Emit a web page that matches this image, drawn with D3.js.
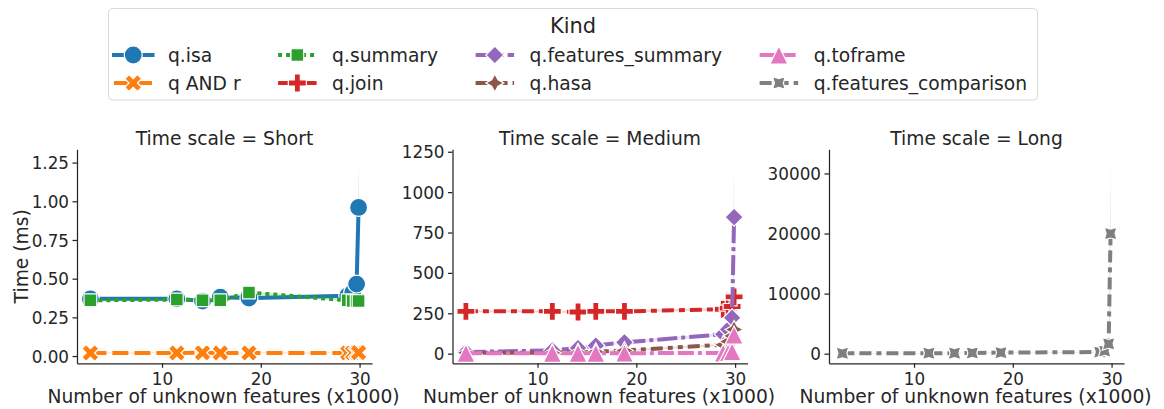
<!DOCTYPE html>
<html>
<head>
<meta charset="utf-8">
<script src="https://cdn.jsdelivr.net/npm/d3@7"></script>
<style>
  body { margin: 0; background: #fff; }
  text { font-family: "DejaVu Sans", sans-serif; fill: #262626; }
</style>
</head>
<body>
<div id="chart"></div>
<script>
    // number of unknown features (x1000), same for every kind
    var features = [2.75, 11.5, 14.1, 15.9, 18.8, 28.8, 29.3, 29.7, 29.9];

    var timeScales = ["Short", "Medium", "Long"];
    var kinds = ["q.isa", "q AND r", "q.summary", "q.join", "q.features_summary", "q.hasa", "q.toframe", "q.features_comparison"];
    var kindScale = ["Short", "Short", "Short", "Medium", "Medium", "Medium", "Medium", "Long"];

    // mean time (ms) with the lower / upper bound of the error band
    var isaMean = [0.37, 0.37, 0.355, 0.38, 0.375, 0.39, 0.41, 0.465, 0.96];
    var isaLo   = [0.362, 0.362, 0.347, 0.372, 0.367, 0.382, 0.395, 0.445, 0.65];
    var isaHi   = [0.378, 0.378, 0.363, 0.388, 0.383, 0.398, 0.425, 0.485, 1.273];

    var andMean = [0.02, 0.02, 0.021, 0.02, 0.02, 0.02, 0.021, 0.022, 0.022];
    var andLo   = [0.016, 0.016, 0.017, 0.016, 0.016, 0.016, 0.017, 0.017, 0.016];
    var andHi   = [0.024, 0.024, 0.025, 0.024, 0.024, 0.024, 0.025, 0.027, 0.028];

    var summaryMean = [0.36, 0.365, 0.36, 0.36, 0.41, 0.36, 0.355, 0.355, 0.355];
    var summaryLo   = [0.353, 0.358, 0.353, 0.353, 0.4, 0.353, 0.348, 0.348, 0.345];
    var summaryHi   = [0.367, 0.372, 0.367, 0.367, 0.42, 0.367, 0.362, 0.362, 0.365];

    var joinMean = [262, 262, 258, 262, 262, 275, 282, 292, 352];
    var joinLo   = [255, 255, 251, 255, 255, 268, 274, 282, 330];
    var joinHi   = [269, 269, 265, 269, 269, 282, 290, 302, 375];

    var fsumMean = [10, 20, 35, 50, 70, 120, 150, 222, 845];
    var fsumLo   = [6, 15, 29, 43, 62, 111, 138, 205, 480];
    var fsumHi   = [14, 25, 41, 57, 78, 129, 162, 240, 1205];

    var hasaMean = [5, 6, 8, 12, 20, 55, 75, 110, 150];
    var hasaLo   = [2, 3, 5, 8, 15, 48, 66, 98, 130];
    var hasaHi   = [8, 9, 11, 16, 25, 62, 84, 122, 172];

    var toframeMean = [2, 2, 2, 2, 3, 4, 6, 12, 115];
    var toframeLo   = [0.5, 0.5, 0.5, 0.5, 1, 2, 3, 6, 90];
    var toframeHi   = [3.5, 3.5, 3.5, 3.5, 5, 6, 9, 18, 140];

    var fcompMean = [60, 80, 100, 120, 180, 270, 450, 1650, 20000];
    var fcompLo   = [20, 40, 60, 80, 130, 200, 350, 1200, 7600];
    var fcompHi   = [100, 120, 140, 160, 230, 340, 550, 2100, 32400];

    var xTicks = [10, 20, 30];
    var yTicks = {
      Short: [0, 0.25, 0.5, 0.75, 1, 1.25],
      Medium: [0, 250, 500, 750, 1000, 1250],
      Long: [0, 10000, 20000, 30000]
    };
    var yFormat = { Short: d3.format(".2f"), Medium: d3.format("d"), Long: d3.format("d") };

    var colors = ["#1f77b4", "#ff7f0e", "#2ca02c", "#d62728", "#9467bd", "#8c564b", "#e377c2", "#7f7f7f"];
    // seaborn default dash specs, scaled by line width
    var dashes = [[], [4, 1.5], [1, 1], [3, 1.25, 1.5, 1.25], [5, 1, 1, 1],
                  [3, 1.25, 1.25, 1.25, 1.25, 1.25], [4, 1, 4, 1, 1, 1], [3, 1.25, 3, 1.25, 1.25, 1.25]];
    var markers = ["circle", "x", "square", "plus", "diamond", "star", "triangle", "star45"];

    var series = [
      [isaMean, isaLo, isaHi], [andMean, andLo, andHi], [summaryMean, summaryLo, summaryHi],
      [joinMean, joinLo, joinHi], [fsumMean, fsumLo, fsumHi], [hasaMean, hasaLo, hasaHi],
      [toframeMean, toframeLo, toframeHi], [fcompMean, fcompLo, fcompHi]
    ].map(function(s, i) {
      return {
        kind: kinds[i], scale: kindScale[i], color: colors[i], dash: dashes[i], marker: markers[i],
        pts: features.map(function(f, j) { return { x: f, y: s[0][j], lo: s[1][j], hi: s[2][j] }; })
      };
    });

    var width = 1164, height = 409;
    var lw = 4, ms = 18;
    var panelLeft = [77, 452.5, 829], panelW = 295;
    var plotTop = 149.3, plotBottom = 363.3;

    var svg = d3.select("#chart").append("svg")
        .attr("width", width)
        .attr("height", height);

    // matplotlib like 5% margins
    function padded(ext) {
      var m = (ext[1] - ext[0]) * 0.05;
      return [ext[0] - m, ext[1] + m];
    }

    function polygon(n, ang, r, inner) {
      var pts = [], k = inner ? 2 * n : n;
      for (var i = 0; i < k; i++) {
        var t = 2 * Math.PI * i / k + Math.PI / 2 + ang * Math.PI / 180;
        var rr = (inner && i % 2) ? r * inner : r;
        pts.push([rr * Math.cos(t), -rr * Math.sin(t)]);
      }
      return "M" + pts.join("L") + "Z";
    }

    function plusPath(s, ang) {
      var v = [[-1, -3], [1, -3], [1, -1], [3, -1], [3, 1], [1, 1], [1, 3], [-1, 3], [-1, 1], [-3, 1], [-3, -1], [-1, -1]];
      var a = ang * Math.PI / 180;
      return "M" + v.map(function(p) {
        var x = p[0] / 6 * s, y = p[1] / 6 * s;
        return [x * Math.cos(a) - y * Math.sin(a), x * Math.sin(a) + y * Math.cos(a)];
      }).join("L") + "Z";
    }

    function markerPath(type) {
      var r = ms / 2;
      switch (type) {
        case "circle": return "M" + r + ",0A" + r + "," + r + " 0 1,1 " + (-r) + ",0A" + r + "," + r + " 0 1,1 " + r + ",0Z";
        case "x": return plusPath(ms, 45);
        case "square": return polygon(4, 45, r);
        case "plus": return plusPath(ms, 0);
        case "diamond": return polygon(4, 0, r);
        case "star": return polygon(4, 0, r, 0.5);
        case "triangle": return "M0," + (-r) + "L" + (-r) + "," + r + "L" + r + "," + r + "Z";
        case "star45": return polygon(4, 45, r, 0.5);
      }
    }

    var x0 = padded(d3.extent(features));

    timeScales.forEach(function(ts, p) {
      var sub = series.filter(function(s) { return s.scale === ts; });
      var lo = d3.min(sub, function(s) { return d3.min(s.pts, function(d) { return Math.min(d.lo, d.y); }); });
      var hi = d3.max(sub, function(s) { return d3.max(s.pts, function(d) { return Math.max(d.hi, d.y); }); });

      var x = d3.scaleLinear().domain(x0).range([panelLeft[p], panelLeft[p] + panelW]);
      var y = d3.scaleLinear().domain(padded([lo, hi])).range([plotBottom, plotTop]);

      var g = svg.append("g").attr("class", "panel");

      sub.forEach(function(s) {
        g.append("path")
          .datum(s.pts)
          .attr("fill", s.color)
          .attr("fill-opacity", 0.2)
          .attr("d", d3.area().x(function(d) { return x(d.x); }).y0(function(d) { return y(d.lo); }).y1(function(d) { return y(d.hi); }));
        g.append("path")
          .datum(s.pts)
          .attr("fill", "none")
          .attr("stroke", s.color)
          .attr("stroke-width", lw)
          .attr("stroke-linejoin", "round")
          .attr("stroke-linecap", s.dash.length ? "butt" : "square")
          .attr("stroke-dasharray", s.dash.length ? s.dash.map(function(v) { return v * lw; }).join(",") : null)
          .attr("d", d3.line().x(function(d) { return x(d.x); }).y(function(d) { return y(d.y); }));
        g.selectAll(null)
          .data(s.pts)
          .enter().append("path")
            .attr("transform", function(d) { return "translate(" + x(d.x) + "," + y(d.y) + ")"; })
            .attr("d", markerPath(s.marker))
            .attr("fill", s.color)
            .attr("stroke", "#fff")
            .attr("stroke-width", 1.2);
      });

      // axes
      var ax = svg.append("g")
          .attr("transform", "translate(0," + plotBottom + ")")
          .call(d3.axisBottom(x).tickValues(xTicks).tickSize(4.5).tickSizeOuter(0).tickPadding(3.5));
      var ay = svg.append("g")
          .attr("transform", "translate(" + panelLeft[p] + ",0)")
          .call(d3.axisLeft(y).tickValues(yTicks[ts]).tickFormat(yFormat[ts]).tickSize(4.5).tickSizeOuter(0).tickPadding(3.5));
      [ax, ay].forEach(function(a) {
        a.select(".domain").attr("stroke", "#262626").attr("stroke-width", 1.25);
        a.selectAll(".tick line").attr("stroke", "#262626").attr("stroke-width", 1.25);
        a.selectAll(".tick text").attr("font-family", "DejaVu Sans").attr("font-size", "16.8px").attr("fill", "#262626");
      });
      ax.selectAll(".tick text").attr("dy", null).attr("y", 21.5);
      ay.selectAll(".tick text").attr("dy", "0.36em");

      svg.append("text")
          .attr("x", panelLeft[p] + panelW / 2)
          .attr("y", 145)
          .attr("text-anchor", "middle")
          .attr("font-size", "18.7px")
          .text("Time scale = " + ts);

      svg.append("text")
          .attr("x", panelLeft[p] + panelW / 2 - 1)
          .attr("y", 402.5)
          .attr("text-anchor", "middle")
          .attr("font-size", "18.7px")
          .text("Number of unknown features (x1000)");
    });

    svg.append("text")
        .attr("transform", "translate(28," + ((plotTop + plotBottom) / 2) + ") rotate(-90)")
        .attr("text-anchor", "middle")
        .attr("font-size", "18.7px")
        .text("Time (ms)");

    // legend
    var legend = svg.append("g").attr("class", "legend");
    legend.append("rect")
        .attr("x", 108.5).attr("y", 8.5)
        .attr("width", 929).attr("height", 91.5)
        .attr("rx", 4)
        .attr("fill", "#fff")
        .attr("fill-opacity", 0.8)
        .attr("stroke", "#d9d9d9")
        .attr("stroke-width", 1);
    legend.append("text")
        .attr("x", 108.5 + 929 / 2).attr("y", 33)
        .attr("text-anchor", "middle")
        .attr("font-size", "21px")
        .text("Kind");

    var rowY = [55, 83], handleLen = 38.5, textPad = 15.5, colGap = 37.5;
    var items = series.map(function(s, i) {
      var item = legend.append("g");
      var t = item.append("text")
          .attr("dy", "0.36em")
          .attr("font-size", "18.7px")
          .text(s.kind);
      return { s: s, g: item, t: t, w: t.node().getComputedTextLength() };
    });
    var colX = [114];
    for (var c = 1; c < 4; c++) {
      var wmax = Math.max(items[2 * c - 2].w, items[2 * c - 1].w);
      colX.push(colX[c - 1] + handleLen + textPad + wmax + colGap);
    }
    items.forEach(function(it, i) {
      var cx = colX[Math.floor(i / 2)], cy = rowY[i % 2], s = it.s;
      it.t.attr("x", cx + handleLen + textPad).attr("y", cy);
      it.g.insert("line", "text")
          .attr("x1", cx).attr("x2", cx + handleLen)
          .attr("y1", cy).attr("y2", cy)
          .attr("stroke", s.color)
          .attr("stroke-width", lw)
          .attr("stroke-linecap", s.dash.length ? "butt" : "square")
          .attr("stroke-dasharray", s.dash.length ? s.dash.map(function(v) { return v * lw; }).join(",") : null);
      it.g.insert("path", "text")
          .attr("transform", "translate(" + (cx + handleLen / 2) + "," + cy + ")")
          .attr("d", markerPath(s.marker))
          .attr("fill", s.color)
          .attr("stroke", "#fff")
          .attr("stroke-width", 1.2);
    });
</script>
</body>
</html>
